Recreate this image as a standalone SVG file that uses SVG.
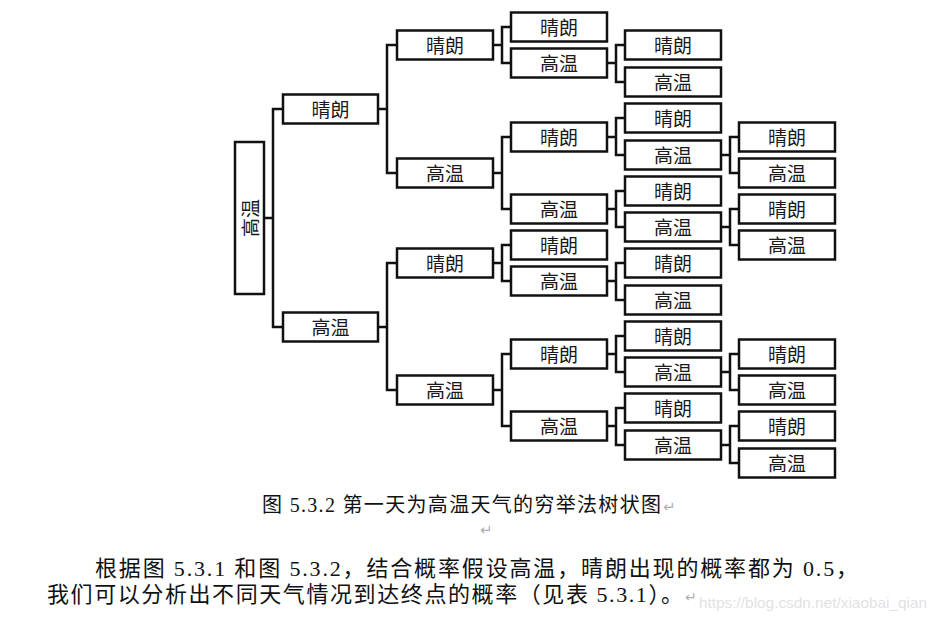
<svg xmlns="http://www.w3.org/2000/svg" width="937" height="622" viewBox="0 0 937 622">
<style>
.box{fill:#fff;stroke:#111;stroke-width:2.5}
.lbl{font-family:"Noto Sans CJK SC","Noto Sans",sans-serif;font-size:19px;text-anchor:middle;dominant-baseline:central;fill:#1a1a1a}
g.nd text{transform:translate(0px,-1px)}
.conn path{stroke:#111;stroke-width:2.5;fill:none}
.body{font-family:"Liberation Serif","Noto Sans CJK SC",serif;fill:#111}
.mark{font-family:"DejaVu Sans",sans-serif;fill:#b0b0b0}
</style>
<rect width="937" height="622" fill="#fff"/>
<g class="conn" id="connectors">
<path d="M264,218 H273 M283,109 H273 V327 H283"/>
<path d="M378,109 H387 M397,45 H387 V173 H397"/>
<path d="M378,327 H387 M397,263 H387 V390 H397"/>
<path d="M493,45 H502 M511,27 H502 V63 H511"/>
<path d="M493,173 H502 M511,137 H502 V209 H511"/>
<path d="M493,263 H502 M511,245 H502 V281 H511"/>
<path d="M493,390 H502 M511,354 H502 V426 H511"/>
<path d="M607,63 H616 M625,45 H616 V82 H625"/>
<path d="M607,137 H616 M625,118 H616 V155 H625"/>
<path d="M607,209 H616 M625,191 H616 V227 H625"/>
<path d="M607,281 H616 M625,263 H616 V300 H625"/>
<path d="M607,354 H616 M625,336 H616 V372 H625"/>
<path d="M607,426 H616 M625,408 H616 V445 H625"/>
<path d="M721,155 H730 M739,137 H730 V173 H739"/>
<path d="M721,227 H730 M739,209 H730 V245 H739"/>
<path d="M721,372 H730 M739,354 H730 V390 H739"/>
<path d="M721,445 H730 M739,426 H730 V463 H739"/>
</g>
<g id="root"><rect class="box" x="235" y="142" width="29" height="152"/><text class="lbl" transform="translate(249.5,218) rotate(-90)">高温</text></g>
<g class="nd" id="n1"><rect class="box" x="283" y="94.5" width="95" height="29"/><text class="lbl" x="330.5" y="109">晴朗</text></g>
<g class="nd" id="n2"><rect class="box" x="283" y="312.5" width="95" height="29"/><text class="lbl" x="330.5" y="327">高温</text></g>
<g class="nd" id="n11"><rect class="box" x="397" y="30.5" width="96" height="29"/><text class="lbl" x="445" y="45">晴朗</text></g>
<g class="nd" id="n12"><rect class="box" x="397" y="158.5" width="96" height="29"/><text class="lbl" x="445" y="173">高温</text></g>
<g class="nd" id="n21"><rect class="box" x="397" y="248.5" width="96" height="29"/><text class="lbl" x="445" y="263">晴朗</text></g>
<g class="nd" id="n22"><rect class="box" x="397" y="375.5" width="96" height="29"/><text class="lbl" x="445" y="390">高温</text></g>
<g class="nd" id="n111"><rect class="box" x="511" y="12.5" width="96" height="29"/><text class="lbl" x="559" y="27">晴朗</text></g>
<g class="nd" id="n112"><rect class="box" x="511" y="48.5" width="96" height="29"/><text class="lbl" x="559" y="63">高温</text></g>
<g class="nd" id="n121"><rect class="box" x="511" y="122.5" width="96" height="29"/><text class="lbl" x="559" y="137">晴朗</text></g>
<g class="nd" id="n122"><rect class="box" x="511" y="194.5" width="96" height="29"/><text class="lbl" x="559" y="209">高温</text></g>
<g class="nd" id="n211"><rect class="box" x="511" y="230.5" width="96" height="29"/><text class="lbl" x="559" y="245">晴朗</text></g>
<g class="nd" id="n212"><rect class="box" x="511" y="266.5" width="96" height="29"/><text class="lbl" x="559" y="281">高温</text></g>
<g class="nd" id="n221"><rect class="box" x="511" y="339.5" width="96" height="29"/><text class="lbl" x="559" y="354">晴朗</text></g>
<g class="nd" id="n222"><rect class="box" x="511" y="411.5" width="96" height="29"/><text class="lbl" x="559" y="426">高温</text></g>
<g class="nd" id="n1121"><rect class="box" x="625" y="30.5" width="96" height="29"/><text class="lbl" x="673" y="45">晴朗</text></g>
<g class="nd" id="n1122"><rect class="box" x="625" y="67.5" width="96" height="29"/><text class="lbl" x="673" y="82">高温</text></g>
<g class="nd" id="n1211"><rect class="box" x="625" y="103.5" width="96" height="29"/><text class="lbl" x="673" y="118">晴朗</text></g>
<g class="nd" id="n1212"><rect class="box" x="625" y="140.5" width="96" height="29"/><text class="lbl" x="673" y="155">高温</text></g>
<g class="nd" id="n1221"><rect class="box" x="625" y="176.5" width="96" height="29"/><text class="lbl" x="673" y="191">晴朗</text></g>
<g class="nd" id="n1222"><rect class="box" x="625" y="212.5" width="96" height="29"/><text class="lbl" x="673" y="227">高温</text></g>
<g class="nd" id="n2121"><rect class="box" x="625" y="248.5" width="96" height="29"/><text class="lbl" x="673" y="263">晴朗</text></g>
<g class="nd" id="n2122"><rect class="box" x="625" y="285.5" width="96" height="29"/><text class="lbl" x="673" y="300">高温</text></g>
<g class="nd" id="n2211"><rect class="box" x="625" y="321.5" width="96" height="29"/><text class="lbl" x="673" y="336">晴朗</text></g>
<g class="nd" id="n2212"><rect class="box" x="625" y="357.5" width="96" height="29"/><text class="lbl" x="673" y="372">高温</text></g>
<g class="nd" id="n2221"><rect class="box" x="625" y="393.5" width="96" height="29"/><text class="lbl" x="673" y="408">晴朗</text></g>
<g class="nd" id="n2222"><rect class="box" x="625" y="430.5" width="96" height="29"/><text class="lbl" x="673" y="445">高温</text></g>
<g class="nd" id="n12121"><rect class="box" x="739" y="122.5" width="96" height="29"/><text class="lbl" x="787" y="137">晴朗</text></g>
<g class="nd" id="n12122"><rect class="box" x="739" y="158.5" width="96" height="29"/><text class="lbl" x="787" y="173">高温</text></g>
<g class="nd" id="n12221"><rect class="box" x="739" y="194.5" width="96" height="29"/><text class="lbl" x="787" y="209">晴朗</text></g>
<g class="nd" id="n12222"><rect class="box" x="739" y="230.5" width="96" height="29"/><text class="lbl" x="787" y="245">高温</text></g>
<g class="nd" id="n22121"><rect class="box" x="739" y="339.5" width="96" height="29"/><text class="lbl" x="787" y="354">晴朗</text></g>
<g class="nd" id="n22122"><rect class="box" x="739" y="375.5" width="96" height="29"/><text class="lbl" x="787" y="390">高温</text></g>
<g class="nd" id="n22221"><rect class="box" x="739" y="411.5" width="96" height="29"/><text class="lbl" x="787" y="426">晴朗</text></g>
<g class="nd" id="n22222"><rect class="box" x="739" y="448.5" width="96" height="29"/><text class="lbl" x="787" y="463">高温</text></g>
<g id="caption">
<text class="body" x="262" y="512" font-size="20" textLength="399" lengthAdjust="spacing">图 5.3.2 第一天为高温天气的穷举法树状图</text>
<text class="mark" x="663" y="512" font-size="15">↵</text>
<text class="mark" x="480" y="535" font-size="15">↵</text>
</g>
<g id="paragraph">
<text class="body" x="95" y="576" font-size="22" textLength="763" lengthAdjust="spacing">根据图 5.3.1 和图 5.3.2，结合概率假设高温，晴朗出现的概率都为 0.5，</text>
<text class="body" x="47" y="602" font-size="22" textLength="636" lengthAdjust="spacing">我们可以分析出不同天气情况到达终点的概率（见表 5.3.1）。</text>
<text class="mark" x="685" y="602" font-size="14">↵</text>
<text x="699" y="608" font-family="Liberation Sans, Arial, sans-serif" font-size="15" fill="#e2e2e2" textLength="228" lengthAdjust="spacingAndGlyphs">https://blog.csdn.net/xiaobai_qian</text>
</g>
</svg>
